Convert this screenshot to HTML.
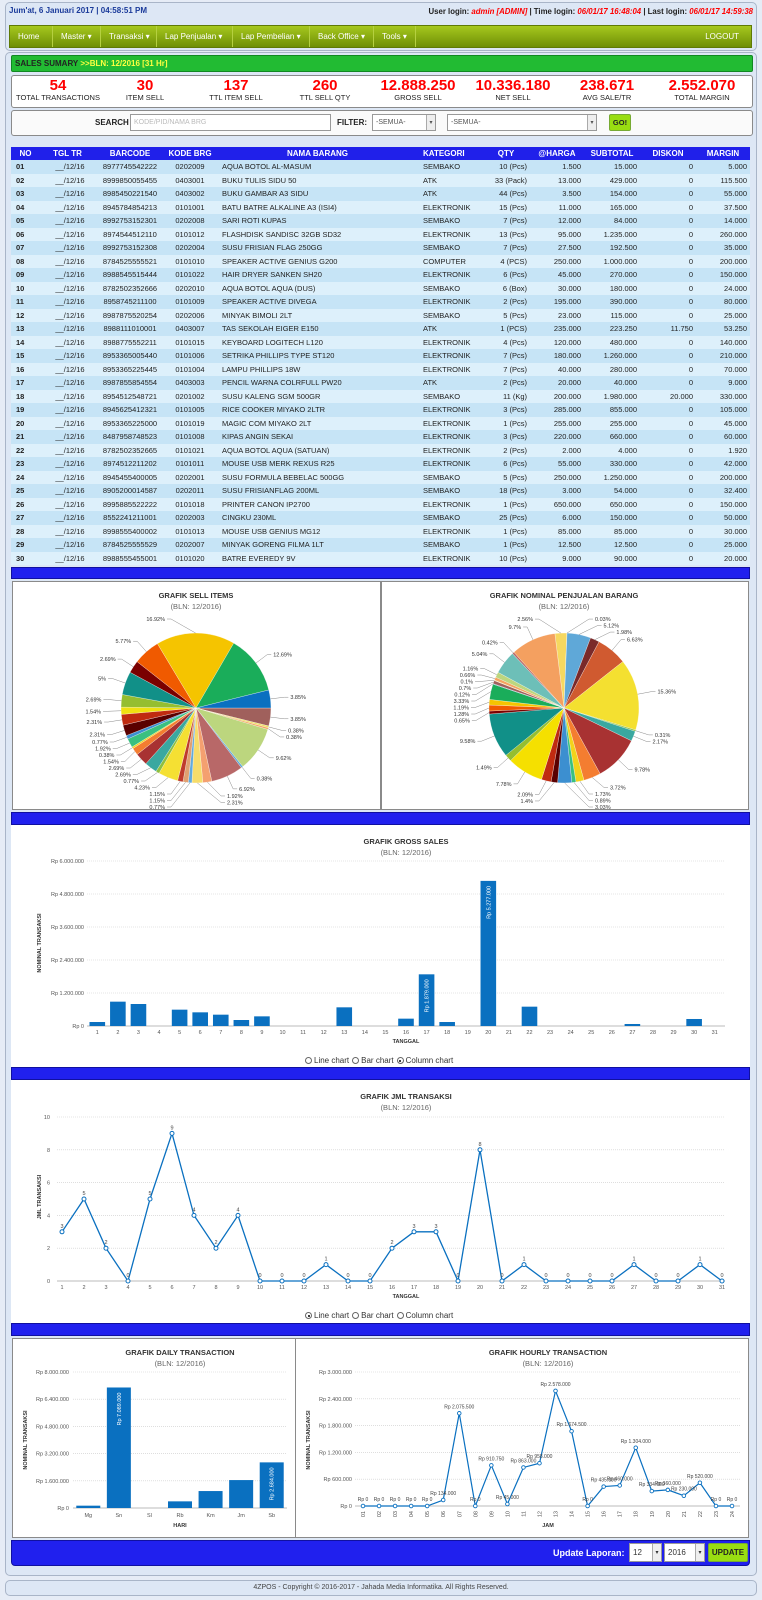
<!DOCTYPE html>
<html><head><meta charset="utf-8">
<style>
*{box-sizing:border-box}
body{margin:0;width:762px;height:1600px;background:#e6ecf6;position:relative;font-family:"Liberation Sans",sans-serif;overflow:hidden;color:#222}
.abs{position:absolute}
.panel{position:absolute;background:#dde7f5;border:1px solid #a9b5c8;border-radius:5px}
.nav{left:9px;top:25px;width:743px;height:23px;background:linear-gradient(#a6c81e,#6f8f06);border:1px solid #5f7a05;display:flex}
.nav div{color:#fff;font-size:8px;line-height:21px;padding:0 8px;border-right:1px solid #b5d040;white-space:nowrap}
.white{position:absolute;background:#fff;border:1px solid #8a8a8a;border-radius:3px}
.stat{position:absolute;width:96px;text-align:center;top:78px}
.stat b{display:block;color:#f00;font-size:15px;line-height:15px}
.stat span{display:block;font-size:7.5px;color:#222;line-height:9px}
table{position:absolute;left:11px;top:147px;width:739px;border-collapse:collapse;table-layout:fixed;font-size:7.5px}
th{background:#2020ea;color:#fff;height:13px;font-size:8px;padding:0;text-align:center}
td{height:13.5px;padding:0 3px;white-space:nowrap;overflow:hidden}
tr:nth-child(odd) td{background:#c6e4f6}
tr:nth-child(even) td{background:#ddf0fb}
.bb{position:absolute;left:11px;width:739px;background:#2020ee;border:1px solid #1010a0}
.radio{position:absolute;font-size:8px;color:#333;white-space:nowrap}
.rc{display:inline-block;width:7px;height:7px;border:1px solid #666;border-radius:50%;vertical-align:-1px;margin:0 2px 0 3px;background:#fff;position:relative}
.rc.on::after{content:"";position:absolute;left:1.5px;top:1.5px;width:2px;height:2px;border-radius:50%;background:#000}
.sel{position:absolute;background:#fff;border:1px solid #999;font-size:7px;color:#555;line-height:16px;padding-left:3px}
.sel i{position:absolute;right:0;top:0;width:9px;height:100%;border-left:1px solid #aaa;background:#eee;font-style:normal;font-size:6px;text-align:center}
</style></head><body>
<div class="panel" style="left:5px;top:2px;width:752px;height:49px"></div>
<div class="abs" style="left:9px;top:6px;font-size:8px;color:#1a3a9a;font-weight:bold">Jum'at, 6 Januari 2017 | 04:58:51 PM</div>
<div class="abs" style="right:9px;top:7px;font-size:7.8px;font-weight:bold;color:#222">User login: <i style="color:#f00">admin [ADMIN]</i> | Time login: <i style="color:#f00">06/01/17 16:48:04</i> | Last login: <i style="color:#f00">06/01/17 14:59:38</i></div>
<div class="abs nav">
<div style="width:43px">Home</div>
<div style="width:48px">Master ▾</div>
<div style="width:56px">Transaksi ▾</div>
<div style="width:76px">Lap Penjualan ▾</div>
<div style="width:77px">Lap Pembelian ▾</div>
<div style="width:64px">Back Office ▾</div>
<div style="width:42px">Tools ▾</div>
<div style="margin-left:auto;border:none;padding-right:12px">LOGOUT</div>
</div>
<div class="panel" style="left:5px;top:52px;width:752px;height:1524px"></div>
<div class="abs" style="left:11px;top:55px;width:742px;height:17px;background:#22bb33;border:1px solid #118822;border-radius:2px;font-size:8px;font-weight:bold;line-height:15px;padding-left:3px">SALES SUMARY <span style="color:#ffff40">&gt;&gt;BLN: 12/2016 [31 Hr]</span></div>
<div class="white" style="left:11px;top:75px;width:742px;height:33px"></div>
<div class="stat" style="left:10px"><b>54</b><span>TOTAL TRANSACTIONS</span></div>
<div class="stat" style="left:97px"><b>30</b><span>ITEM SELL</span></div>
<div class="stat" style="left:188px"><b>137</b><span>TTL ITEM SELL</span></div>
<div class="stat" style="left:277px"><b>260</b><span>TTL SELL QTY</span></div>
<div class="stat" style="left:370px"><b>12.888.250</b><span>GROSS SELL</span></div>
<div class="stat" style="left:465px"><b>10.336.180</b><span>NET SELL</span></div>
<div class="stat" style="left:559px"><b>238.671</b><span>AVG SALE/TR</span></div>
<div class="stat" style="left:654px"><b>2.552.070</b><span>TOTAL MARGIN</span></div>
<div class="white" style="left:11px;top:110px;width:742px;height:26px;background:#fafafa"></div>
<div class="abs" style="left:95px;top:118px;font-size:8px;font-weight:bold">SEARCH</div>
<div class="sel" style="left:130px;top:114px;width:201px;height:17px;color:#bbb">KODE/PID/NAMA BRG</div>
<div class="abs" style="left:337px;top:118px;font-size:8px;font-weight:bold">FILTER:</div>
<div class="sel" style="left:372px;top:114px;width:64px;height:17px">-SEMUA-<i>▾</i></div>
<div class="sel" style="left:447px;top:114px;width:150px;height:17px">-SEMUA-<i>▾</i></div>
<div class="abs" style="left:609px;top:114px;width:22px;height:17px;background:#99dd11;border:1px solid #7a3;border-radius:2px;font-size:7.5px;font-weight:bold;text-align:center;line-height:15px">GO!</div>

<table>
<colgroup><col style="width:29px"><col style="width:55px"><col style="width:70px"><col style="width:50px"><col style="width:205px"><col style="width:62px"><col style="width:48px"><col style="width:54px"><col style="width:56px"><col style="width:56px"><col style="width:54px"></colgroup>
<thead><tr><th>NO</th><th>TGL TR</th><th>BARCODE</th><th>KODE BRG</th><th>NAMA BARANG</th><th style="text-align:left;padding-left:3px">KATEGORI</th><th>QTY</th><th>@HARGA</th><th>SUBTOTAL</th><th>DISKON</th><th>MARGIN</th></tr></thead>
<tbody id="tb"></tbody></table>

<div class="bb" style="top:567px;height:12px"></div>
<div class="white" style="left:12px;top:581px;width:369px;height:229px;border-radius:0"></div>
<div class="white" style="left:381px;top:581px;width:368px;height:229px;border-radius:0"></div>
<div class="bb" style="top:812px;height:13px"></div>
<div class="abs" style="left:11px;top:825px;width:739px;height:242px;background:#fff"></div>
<div class="bb" style="top:1067px;height:13px"></div>
<div class="abs" style="left:11px;top:1080px;width:739px;height:243px;background:#fff"></div>
<div class="bb" style="top:1323px;height:13px"></div>
<div class="white" style="left:12px;top:1338px;width:284px;height:200px;border-radius:0"></div>
<div class="white" style="left:295px;top:1338px;width:454px;height:200px;border-radius:0"></div>
<div class="bb" style="top:1540px;height:26px;border-radius:0 0 4px 4px"></div>
<div class="abs" style="left:553px;top:1548px;color:#fff;font-size:9px;font-weight:bold">Update Laporan:</div>
<div class="sel" style="left:629px;top:1543px;width:33px;height:19px;font-size:8px;line-height:18px;color:#333">12<i>▾</i></div>
<div class="sel" style="left:664px;top:1543px;width:41px;height:19px;font-size:8px;line-height:18px;color:#333">2016<i>▾</i></div>
<div class="abs" style="left:708px;top:1543px;width:40px;height:19px;background:#99dd11;border:1px solid #7a3;border-radius:2px;font-size:8px;font-weight:bold;text-align:center;line-height:17px">UPDATE</div>
<div class="panel" style="left:5px;top:1580px;width:752px;height:16px;font-size:7px;text-align:center;line-height:14px;color:#444">4ZPOS - Copyright © 2016-2017 - Jahada Media Informatika. All Rights Reserved.</div>

<div class="radio" style="left:302px;top:1056px"><span class="rc"></span>Line chart<span class="rc"></span>Bar chart<span class="rc on"></span>Column chart</div>
<div class="radio" style="left:302px;top:1311px"><span class="rc on"></span>Line chart<span class="rc"></span>Bar chart<span class="rc"></span>Column chart</div>

<svg id="cs" class="abs" style="left:0;top:0" width="762" height="1600" font-family="Liberation Sans, sans-serif"></svg>

<script>
const tableRows = [
["01","8977745542222","0202009","AQUA BOTOL AL-MASUM","SEMBAKO","10 (Pcs)","1.500","15.000","0","5.000"],
["02","8999850055455","0403001","BUKU TULIS SIDU 50","ATK","33 (Pack)","13.000","429.000","0","115.500"],
["03","8985450221540","0403002","BUKU GAMBAR A3 SIDU","ATK","44 (Pcs)","3.500","154.000","0","55.000"],
["04","8945784854213","0101001","BATU BATRE ALKALINE A3 (ISI4)","ELEKTRONIK","15 (Pcs)","11.000","165.000","0","37.500"],
["05","8992753152301","0202008","SARI ROTI KUPAS","SEMBAKO","7 (Pcs)","12.000","84.000","0","14.000"],
["06","8974544512110","0101012","FLASHDISK SANDISC 32GB SD32","ELEKTRONIK","13 (Pcs)","95.000","1.235.000","0","260.000"],
["07","8992753152308","0202004","SUSU FRISIAN FLAG 250GG","SEMBAKO","7 (Pcs)","27.500","192.500","0","35.000"],
["08","8784525555521","0101010","SPEAKER ACTIVE GENIUS G200","COMPUTER","4 (PCS)","250.000","1.000.000","0","200.000"],
["09","8988545515444","0101022","HAIR DRYER SANKEN SH20","ELEKTRONIK","6 (Pcs)","45.000","270.000","0","150.000"],
["10","8782502352666","0202010","AQUA BOTOL AQUA (DUS)","SEMBAKO","6 (Box)","30.000","180.000","0","24.000"],
["11","8958745211100","0101009","SPEAKER ACTIVE DIVEGA","ELEKTRONIK","2 (Pcs)","195.000","390.000","0","80.000"],
["12","8987875520254","0202006","MINYAK BIMOLI 2LT","SEMBAKO","5 (Pcs)","23.000","115.000","0","25.000"],
["13","8988111010001","0403007","TAS SEKOLAH EIGER E150","ATK","1 (PCS)","235.000","223.250","11.750","53.250"],
["14","8988775552211","0101015","KEYBOARD LOGITECH L120","ELEKTRONIK","4 (Pcs)","120.000","480.000","0","140.000"],
["15","8953365005440","0101006","SETRIKA PHILLIPS TYPE ST120","ELEKTRONIK","7 (Pcs)","180.000","1.260.000","0","210.000"],
["16","8953365225445","0101004","LAMPU PHILLIPS 18W","ELEKTRONIK","7 (Pcs)","40.000","280.000","0","70.000"],
["17","8987855854554","0403003","PENCIL WARNA COLRFULL PW20","ATK","2 (Pcs)","20.000","40.000","0","9.000"],
["18","8954512548721","0201002","SUSU KALENG SGM 500GR","SEMBAKO","11 (Kg)","200.000","1.980.000","20.000","330.000"],
["19","8945625412321","0101005","RICE COOKER MIYAKO 2LTR","ELEKTRONIK","3 (Pcs)","285.000","855.000","0","105.000"],
["20","8953365225000","0101019","MAGIC COM MIYAKO 2LT","ELEKTRONIK","1 (Pcs)","255.000","255.000","0","45.000"],
["21","8487958748523","0101008","KIPAS ANGIN SEKAI","ELEKTRONIK","3 (Pcs)","220.000","660.000","0","60.000"],
["22","8782502352665","0101021","AQUA BOTOL AQUA (SATUAN)","ELEKTRONIK","2 (Pcs)","2.000","4.000","0","1.920"],
["23","8974512211202","0101011","MOUSE USB MERK REXUS R25","ELEKTRONIK","6 (Pcs)","55.000","330.000","0","42.000"],
["24","8945455400005","0202001","SUSU FORMULA BEBELAC 500GG","SEMBAKO","5 (Pcs)","250.000","1.250.000","0","200.000"],
["25","8905200014587","0202011","SUSU FRISIANFLAG 200ML","SEMBAKO","18 (Pcs)","3.000","54.000","0","32.400"],
["26","8995885522222","0101018","PRINTER CANON IP2700","ELEKTRONIK","1 (Pcs)","650.000","650.000","0","150.000"],
["27","8552241211001","0202003","CINGKU 230ML","SEMBAKO","25 (Pcs)","6.000","150.000","0","50.000"],
["28","8998555400002","0101013","MOUSE USB GENIUS MG12","ELEKTRONIK","1 (Pcs)","85.000","85.000","0","30.000"],
["29","8784525555529","0202007","MINYAK GORENG FILMA 1LT","SEMBAKO","1 (Pcs)","12.500","12.500","0","25.000"],
["30","8988555455001","0101020","BATRE EVEREDY 9V","ELEKTRONIK","10 (Pcs)","9.000","90.000","0","20.000"]];

const sellPct = [3.85,0.38,0.38,9.62,0.38,6.92,1.92,2.31,0.77,1.15,1.15,4.23,0.77,2.69,2.69,1.54,0.38,1.92,0.77,2.31,2.31,1.54,2.69,5,2.69,5.77,16.92,12.69,3.85];
const sellColors = ["#a0605c","#f0e060","#f4a460","#bcd67e","#5fa8d8","#b86868","#f4a070","#f6dc6a","#62aadc","#e0a070","#bf3b2c","#f5e033","#8fbf3f","#3aa8a0","#a83232","#f47d30","#f3d21a","#3ac080","#3c8fd0","#5a0000","#c02b10","#f0e010","#95be30","#119088","#7a0000","#f05a00","#f5c400","#1aad5a","#0a70c0"];
const nomPct = [2.56,0.03,5.12,1.98,6.63,15.36,0.31,2.17,9.78,3.72,1.73,0.89,3.03,1.4,2.09,7.78,1.49,9.58,0.65,1.28,1.19,3.33,0.12,0.7,0.1,0.66,1.16,5.04,0.42,9.7];
const nomColors = ["#f6d860","#aaaaaa","#5fa8d8","#7a2a2a","#d05a30","#f4e030","#8fbf3f","#3aa8a0","#a83232","#f47d30","#f3d21a","#3ac080","#3c8fd0","#5a0000","#c02b10","#f5e000","#95be30","#119088","#7a0000","#f05a00","#f5c400","#1aad5a","#0a70c0","#a0605c","#f0e060","#f4a460","#bcd67e","#6dbfb8","#b86868","#f4a060"];

const grossDays = ["1","2","3","4","5","6","7","8","9","10","11","12","13","14","15","16","17","18","19","20","21","22","23","24","25","26","27","28","29","30","31"];
const grossValues = [145000,885000,800000,0,594000,497000,412000,218000,351000,0,0,0,679000,0,0,267000,1879000,145000,0,5277000,0,703000,0,0,0,0,73000,0,0,255000,0];
const grossTickValues = [0,1200000,2400000,3600000,4800000,6000000];
const grossTickLabels = ["Rp 0","Rp 1.200.000","Rp 2.400.000","Rp 3.600.000","Rp 4.800.000","Rp 6.000.000"];

const jmlDays = ["1","2","3","4","5","6","7","8","9","10","11","12","13","14","15","16","17","18","19","20","21","22","23","24","25","26","27","28","29","30","31"];
const jmlValues = [3,5,2,0,5,9,4,2,4,0,0,0,1,0,0,2,3,3,0,8,0,1,0,0,0,0,1,0,0,1,0];
const jmlTickValues = [0,2,4,6,8,10];
const jmlTickLabels = ["0","2","4","6","8","10"];

const dailyDays = ["Mg","Sn","Sl","Rb","Km","Jm","Sb"];
const dailyValues = [137000,7089000,0,391000,997000,1643000,2684000];
const dailyTickValues = [0,1600000,3200000,4800000,6400000,8000000];
const dailyTickLabels = ["Rp 0","Rp 1.600.000","Rp 3.200.000","Rp 4.800.000","Rp 6.400.000","Rp 8.000.000"];

const hourLabels = ["01","02","03","04","05","06","07","08","09","10","11","12","13","14","15","16","17","18","19","20","21","22","23","24"];
const hourValues = [0,0,0,0,0,134000,2075500,0,910750,45000,863000,958000,2578000,1674500,0,435000,460000,1304000,334000,360000,230000,520000,0,0];
const hourTickValues = [0,600000,1200000,1800000,2400000,3000000];
const hourTickLabels = ["Rp 0","Rp 600.000","Rp 1.200.000","Rp 1.800.000","Rp 2.400.000","Rp 3.000.000"];

const tb = document.getElementById('tb');
tableRows.forEach(r => {
  const tr = document.createElement('tr');
  
  
  const cells = [r[0],"__/12/16",r[1],r[2],r[3],r[4],r[5],r[6],r[7],r[8],r[9]];
  const al = ["left","center","center","center","left","left","right","right","right","right","right"];
  cells.forEach((c,i) => {
    const td = document.createElement('td');
    td.textContent = c;
    td.style.textAlign = al[i];
    if (i===0){td.style.fontWeight='bold';td.style.paddingLeft='5px';}
    if (i===4) td.style.paddingLeft='7px';
    if (i===1) td.style.paddingLeft='8px';
    tr.appendChild(td);
  });
  tb.appendChild(tr);
});

const NS = 'http://www.w3.org/2000/svg';
const svg = document.getElementById('cs');
function mk(tag, attrs, parent) {
  const e = document.createElementNS(NS, tag);
  for (const k in attrs) e.setAttribute(k, attrs[k]);
  (parent || svg).appendChild(e);
  return e;
}
function txt(x, y, s, size, fill, anchor, extra) {
  const t = mk('text', Object.assign({x:x, y:y, 'font-size':size, fill:fill, 'text-anchor':anchor||'middle'}, extra||{}));
  t.textContent = s;
  return t;
}
function fmtRp(v){ return 'Rp ' + String(v).replace(/\B(?=(\d{3})+(?!\d))/g,'.'); }
function titles(cx, y, title, name) {
  const t = txt(cx, y, title, 7.5, '#333', 'middle', {'font-weight':'bold'});
  
  
  const s = txt(cx, y+11, '(BLN: 12/2016)', 7.5, '#666', 'middle');
  
  
}
function linScale(v0, v1, p0, p1){ return v => p0 + (v - v0) / (v1 - v0) * (p1 - p0); }
function gridY(ys, ticks, labels, left, right, labelX, name) {
  ticks.forEach((tv,i) => {
    const y = ys(tv);
    const l = mk('line', {x1:left, x2:right, y1:y, y2:y, stroke: i===0 ? '#bbb' : '#ccc', 'stroke-width': i===0?1:0.6, 'stroke-dasharray': i===0 ? '' : '1,1'});
    
    
    const t = txt(labelX, y+2, labels[i], 5.5, '#555', 'end');
    
    
  });
}
function axisTitle(x, y, s, name, rot) {
  const t = txt(x, y, s, 5.5, '#333', 'middle', {'font-weight':'bold'});
  if (rot) t.setAttribute('transform', 'rotate(-90 ' + x + ' ' + y + ')');
  
  
}

function pie(cx, cy, r, pcts, cols, startDeg, name) {
  const total = pcts.reduce((a,b)=>a+b,0);
  let a = startDeg * Math.PI/180;
  const labels = [];
  pcts.forEach((p,i) => {
    const da = p/total*2*Math.PI;
    const a2 = a + da;
    const x1 = cx + r*Math.sin(a), y1 = cy - r*Math.cos(a);
    const x2 = cx + r*Math.sin(a2), y2 = cy - r*Math.cos(a2);
    const path = mk('path', {d:`M${cx},${cy}L${x1},${y1}A${r},${r} 0 ${da>Math.PI?1:0} 1 ${x2},${y2}Z`, fill:cols[i], stroke:'#fff', 'stroke-width':0.3});
    
    
    const m = a + da/2;
    labels.push({m:m, p:p, right: Math.sin(m) >= 0, y: cy - (r+14)*Math.cos(m)});
    a = a2;
  });
  const gap = 6.5, top = cy - r - 24, bot = cy + r + 24;
  [true,false].forEach(side => {
    const L = labels.filter(l => l.right===side).sort((p,q)=>p.y-q.y);
    if (!L.length) return;
    if (L[0].y < top) L[0].y = top;
    for (let k=1;k<L.length;k++) if (L[k].y - L[k-1].y < gap) L[k].y = L[k-1].y + gap;
    if (L[L.length-1].y > bot) {
      L[L.length-1].y = bot;
      for (let k=L.length-2;k>=0;k--) if (L[k+1].y - L[k].y < gap) L[k].y = L[k+1].y - gap;
    }
    L.forEach(l => {
      const ex = cx + r*Math.sin(l.m), ey = cy - r*Math.cos(l.m);
      const dy = Math.min(Math.abs(l.y-cy), r+14);
      const dx = Math.sqrt(Math.max(0, (r+14)*(r+14) - dy*dy));
      const lx = side ? cx + Math.max(dx, 25) : cx - Math.max(dx, 25);
      const tx = side ? lx + 6 : lx - 6;
      const pl = mk('polyline', {points:`${ex},${ey} ${(ex+lx)/2},${(ey+l.y)/2} ${lx},${l.y} ${side?tx-2:tx+2},${l.y}`, fill:'none', stroke:'#888', 'stroke-width':0.5});
      
      
      const t = txt(tx, l.y+2, l.p + '%', 5.5, '#333', side ? 'start' : 'end');
      
      
    });
  });
}
titles(196, 598, 'GRAFIK SELL ITEMS', 'sell-pie');
pie(196, 708, 75, sellPct, sellColors, 90, 'sell-pie');
titles(564, 598, 'GRAFIK NOMINAL PENJUALAN BARANG', 'nominal-pie');
pie(564, 708, 75, nomPct, nomColors, -7, 'nominal-pie');

titles(406, 844, 'GRAFIK GROSS SALES', 'gross-chart');
(function(){
  const left=87,right=725, band=(right-left)/grossDays.length;
  const ys = linScale(0, 6000000, 1026, 861);
  const xs = i => left + band*(i+0.5);
  gridY(ys, grossTickValues, grossTickLabels, left, right, 84, 'gross');
  grossValues.forEach((v,i) => {
    const h = 1026 - ys(v);
    const b = mk('rect', {x:xs(i)-7.8, y:ys(v), width:15.6, height:Math.max(0,h), fill:'#0a70c0'});
    
    
    const t = txt(xs(i), 1034, grossDays[i], 5.5, '#555');
    
    
    if (v > 1500000) {
      const y0 = ys(v) + 5;
      const vl = txt(xs(i)+2, y0, fmtRp(v), 5.5, '#fff', 'end', {transform:`rotate(-90 ${xs(i)+2} ${y0})`});
      
      
    }
  });
  axisTitle(406, 1043, 'TANGGAL', 'gross-x-title', false);
  axisTitle(41, 943, 'NOMINAL TRANSAKSI', 'gross-y-title', true);
})();

titles(406, 1099, 'GRAFIK JML TRANSAKSI', 'jml-chart');
(function(){
  const left=57,right=725;
  const ys = linScale(0, 10, 1281, 1117);
  const xs = i => 62 + i*(722-62)/(jmlDays.length-1);
  gridY(ys, jmlTickValues, jmlTickLabels, left, right, 50, 'jml');
  const pts = jmlValues.map((v,i)=>xs(i)+','+ys(v)).join(' ');
  const pl = mk('polyline', {points:pts, fill:'none', stroke:'#0a70c0', 'stroke-width':1.3});
  
  
  jmlValues.forEach((v,i) => {
    const c = mk('circle', {cx:xs(i), cy:ys(v), r:2, fill:'#fff', stroke:'#0a70c0', 'stroke-width':1});
    
    
    const t = txt(xs(i), ys(v)-4, String(v), 5.5, '#444');
    
    
    const xt = txt(xs(i), 1289, jmlDays[i], 5.5, '#555');
    
    
  });
  axisTitle(406, 1298, 'TANGGAL', 'jml-x-title', false);
  axisTitle(41, 1197, 'JML TRANSAKSI', 'jml-y-title', true);
})();

titles(180, 1355, 'GRAFIK DAILY TRANSACTION', 'daily-chart');
(function(){
  const left=73,right=287, band=(right-left)/dailyDays.length;
  const ys = linScale(0, 8000000, 1508, 1372);
  const xs = i => left + band*(i+0.5);
  gridY(ys, dailyTickValues, dailyTickLabels, left, right, 69, 'daily');
  dailyValues.forEach((v,i) => {
    const b = mk('rect', {x:xs(i)-12, y:ys(v), width:24, height:Math.max(0,1508-ys(v)), fill:'#0a70c0'});
    
    
    const t = txt(xs(i), 1517, dailyDays[i], 5.5, '#555');
    
    
    if (v > 2000000) {
      const y0 = ys(v) + 5;
      const vl = txt(xs(i)+2, y0, fmtRp(v), 5.5, '#fff', 'end', {transform:`rotate(-90 ${xs(i)+2} ${y0})`});
      
      
    }
  });
  axisTitle(180, 1527, 'HARI', 'daily-x-title', false);
  axisTitle(27, 1440, 'NOMINAL TRANSAKSI', 'daily-y-title', true);
})();

titles(548, 1355, 'GRAFIK HOURLY TRANSACTION', 'hourly-chart');
(function(){
  const left=355,right=740;
  const ys = linScale(0, 3000000, 1506, 1372);
  const xs = i => 363 + i*(732-363)/(hourLabels.length-1);
  gridY(ys, hourTickValues, hourTickLabels, left, right, 352, 'hourly');
  const pts = hourValues.map((v,i)=>xs(i)+','+ys(v)).join(' ');
  const pl = mk('polyline', {points:pts, fill:'none', stroke:'#0a70c0', 'stroke-width':1.2});
  
  
  hourValues.forEach((v,i) => {
    const c = mk('circle', {cx:xs(i), cy:ys(v), r:1.8, fill:'#fff', stroke:'#0a70c0', 'stroke-width':0.9});
    
    
    const t = txt(xs(i), ys(v)-5, fmtRp(v), 5, '#444');
    
    
    const x = xs(i), y = 1511;
    const xt = txt(x+2, y, hourLabels[i], 5.5, '#555', 'end', {transform:`rotate(-90 ${x+2} ${y})`});
    
    
  });
  axisTitle(548, 1527, 'JAM', 'hourly-x-title', false);
  axisTitle(310, 1440, 'NOMINAL TRANSAKSI', 'hourly-y-title', true);
})();
</script>
</body></html>
